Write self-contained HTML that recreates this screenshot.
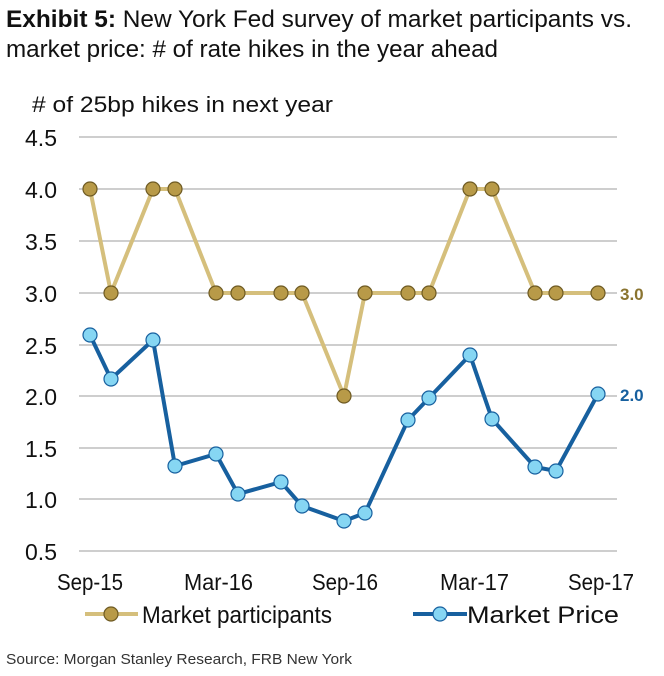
<!DOCTYPE html>
<html><head><style>
body{margin:0;background:#fff;width:664px;height:671px;overflow:hidden;font-family:"Liberation Sans",sans-serif}
</style></head><body>
<svg width="664" height="671" xmlns="http://www.w3.org/2000/svg" font-family="Liberation Sans, sans-serif">
<text x="6" y="27" font-size="24" fill="#111" textLength="626" lengthAdjust="spacingAndGlyphs"><tspan font-weight="bold">Exhibit 5:</tspan>  New York Fed survey of market participants vs.</text>
<text x="6" y="57" font-size="24" fill="#111" textLength="492" lengthAdjust="spacingAndGlyphs">market price: # of rate hikes in the year ahead</text>
<text x="32" y="112" font-size="22" fill="#111" textLength="301" lengthAdjust="spacingAndGlyphs"># of 25bp hikes in next year</text>
<g stroke="#bdbdbd" stroke-width="1.5">
<line x1="79" x2="617" y1="137" y2="137"/><line x1="79" x2="617" y1="189" y2="189"/>
<line x1="79" x2="617" y1="241" y2="241"/><line x1="79" x2="617" y1="293" y2="293"/>
<line x1="79" x2="617" y1="345" y2="345"/><line x1="79" x2="617" y1="396" y2="396"/>
<line x1="79" x2="617" y1="448" y2="448"/><line x1="79" x2="617" y1="499" y2="499"/>
<line x1="79" x2="617" y1="551" y2="551"/>
</g>
<g font-size="23" fill="#111" text-anchor="end">
<text x="57" y="146">4.5</text><text x="57" y="198">4.0</text><text x="57" y="250">3.5</text>
<text x="57" y="302">3.0</text><text x="57" y="354">2.5</text><text x="57" y="405">2.0</text>
<text x="57" y="457">1.5</text><text x="57" y="508">1.0</text><text x="57" y="560">0.5</text>
</g>
<g font-size="23" fill="#111">
<text x="57" y="590" textLength="66" lengthAdjust="spacingAndGlyphs">Sep-15</text>
<text x="184" y="590" textLength="69" lengthAdjust="spacingAndGlyphs">Mar-16</text>
<text x="312" y="590" textLength="66" lengthAdjust="spacingAndGlyphs">Sep-16</text>
<text x="440" y="590" textLength="69" lengthAdjust="spacingAndGlyphs">Mar-17</text>
<text x="568" y="590" textLength="66" lengthAdjust="spacingAndGlyphs">Sep-17</text>
</g>
<polyline fill="none" stroke="#d5bf7c" stroke-width="4" points="90,189 111,293 153,189 175,189 216,293 238,293 281,293 302,293 344,396 365,293 408,293 429,293 470,189 492,189 535,293 556,293 598,293"/>
<g fill="#b89a48" stroke="#6e5a22" stroke-width="1.2">
<circle cx="90" cy="189" r="7"/><circle cx="111" cy="293" r="7"/><circle cx="153" cy="189" r="7"/><circle cx="175" cy="189" r="7"/><circle cx="216" cy="293" r="7"/><circle cx="238" cy="293" r="7"/><circle cx="281" cy="293" r="7"/><circle cx="302" cy="293" r="7"/><circle cx="344" cy="396" r="7"/><circle cx="365" cy="293" r="7"/><circle cx="408" cy="293" r="7"/><circle cx="429" cy="293" r="7"/><circle cx="470" cy="189" r="7"/><circle cx="492" cy="189" r="7"/><circle cx="535" cy="293" r="7"/><circle cx="556" cy="293" r="7"/><circle cx="598" cy="293" r="7"/>
</g>
<polyline fill="none" stroke="#17609f" stroke-width="4" points="90,335 111,379 153,340 175,466 216,454 238,494 281,482 302,506 344,521 365,513 408,420 429,398 470,355 492,419 535,467 556,471 598,394"/>
<g fill="#86d6f3" stroke="#17609f" stroke-width="1.2">
<circle cx="90" cy="335" r="7"/><circle cx="111" cy="379" r="7"/><circle cx="153" cy="340" r="7"/><circle cx="175" cy="466" r="7"/><circle cx="216" cy="454" r="7"/><circle cx="238" cy="494" r="7"/><circle cx="281" cy="482" r="7"/><circle cx="302" cy="506" r="7"/><circle cx="344" cy="521" r="7"/><circle cx="365" cy="513" r="7"/><circle cx="408" cy="420" r="7"/><circle cx="429" cy="398" r="7"/><circle cx="470" cy="355" r="7"/><circle cx="492" cy="419" r="7"/><circle cx="535" cy="467" r="7"/><circle cx="556" cy="471" r="7"/><circle cx="598" cy="394" r="7"/>
</g>
<text x="620" y="300" font-size="17" font-weight="bold" fill="#8a7430">3.0</text>
<text x="620" y="401" font-size="17" font-weight="bold" fill="#17609f">2.0</text>
<line x1="85" x2="138" y1="614" y2="614" stroke="#d5bf7c" stroke-width="4"/>
<circle cx="111" cy="614" r="7" fill="#b89a48" stroke="#6e5a22" stroke-width="1.2"/>
<text x="142" y="623" font-size="24" fill="#111" textLength="190" lengthAdjust="spacingAndGlyphs">Market participants</text>
<line x1="413" x2="467" y1="614" y2="614" stroke="#17609f" stroke-width="4"/>
<circle cx="440" cy="614" r="7" fill="#86d6f3" stroke="#17609f" stroke-width="1.2"/>
<text x="467" y="623" font-size="24" fill="#111" textLength="152" lengthAdjust="spacingAndGlyphs">Market Price</text>
<text x="6" y="664" font-size="15" fill="#333" textLength="346" lengthAdjust="spacingAndGlyphs">Source: Morgan Stanley Research, FRB New York</text>
</svg>
</body></html>
